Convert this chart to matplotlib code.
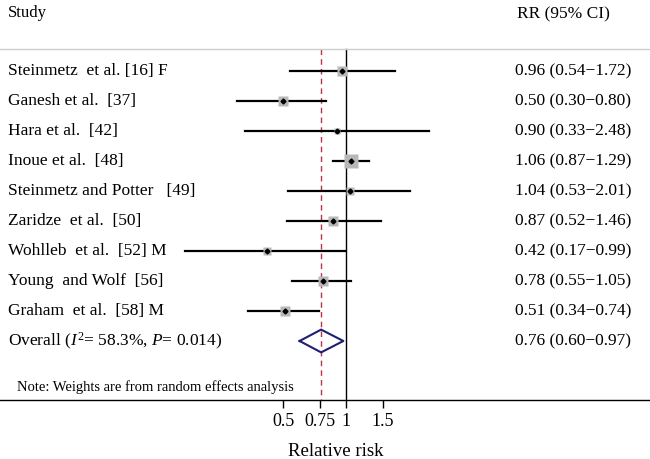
import numpy as np
import matplotlib
matplotlib.use("Agg")
import matplotlib.pyplot as plt
from matplotlib.transforms import blended_transform_factory

plt.rcParams['font.family'] = ['Liberation Serif', 'DejaVu Serif']
plt.rcParams['mathtext.fontset'] = 'custom'
plt.rcParams['mathtext.rm'] = 'Liberation Serif'
plt.rcParams['mathtext.it'] = 'Liberation Serif:italic'

studies = ["Steinmetz  et al. [16] F", "Ganesh et al.  [37]", "Hara et al.  [42]",
           "Inoue et al.  [48]", "Steinmetz and Potter   [49]", "Zaridze  et al.  [50]",
           "Wohlleb  et al.  [52] M", "Young  and Wolf  [56]", "Graham  et al.  [58] M"]
rr = [0.96, 0.50, 0.90, 1.06, 1.04, 0.87, 0.42, 0.78, 0.51]
lo = [0.54, 0.30, 0.33, 0.87, 0.53, 0.52, 0.17, 0.55, 0.34]
hi = [1.72, 0.80, 2.48, 1.29, 2.01, 1.46, 0.99, 1.05, 0.74]
weights = [10.7, 12.2, 5.1, 20.5, 7.0, 10.7, 7.0, 12.8, 14.2]

overall_rr, overall_lo, overall_hi = 0.76, 0.60, 0.97
overall_label = r"Overall ($\mathit{I}^{2}$= 58.3%, $\mathit{P}$= 0.014)"
ticks = [0.5, 0.75, 1, 1.5]
tick_labels = ["0.5", "0.75", "1", "1.5"]

fig = plt.figure(figsize=(6.5, 4.59), dpi=100)
ax = fig.add_axes([0, 59 / 459, 1, 400 / 459])
ax.set_xscale('log')
ax.set_xlim(0.0223, 28.2)
ax.set_ylim(11.967, -1.367)

rows = np.arange(1, len(studies) + 1)
overall_row = len(studies) + 1

# reference lines
ax.plot([1, 1], [0.267, 11.967], color='black', lw=1, zorder=1)
ax.plot([overall_rr, overall_rr], [0.267, 11.967], color='#b8334a', lw=1,
        ls=(0, (4, 3)), zorder=1)
ax.axhline(0.267, color='#cccccc', lw=1)

for y, r, l, h, w in zip(rows, rr, lo, hi, weights):
    ax.plot([l, h], [y, y], color='black', lw=1.6, zorder=2)
    ax.plot(r, y, marker='s', ms=2.9 * np.sqrt(w) * 0.72, color='#b8b8b8',
            mec='none', zorder=3)
    ax.plot(r, y, marker='D', ms=2.5, color='black', zorder=4)

# pooled diamond
ax.plot([overall_lo, overall_rr, overall_hi, overall_rr, overall_lo],
        [overall_row, overall_row - 0.38, overall_row, overall_row + 0.38, overall_row],
        color='#1f1f70', lw=1.5, zorder=3)

trans = blended_transform_factory(ax.transAxes, ax.transData)
ax.text(0.0123, -0.95, "Study", transform=trans, fontsize=12, va='center')
ax.text(0.795, -0.88, "RR (95% CI)", transform=trans, fontsize=12.5, va='center')
for y, s, r, l, h in zip(rows, studies, rr, lo, hi):
    ax.text(0.0123, y, s, transform=trans, fontsize=12.5, va='center')
    ax.text(0.792, y, f"{r:.2f} ({l:.2f}\u2212{h:.2f})", transform=trans,
            fontsize=12.5, va='center')
ax.text(0.0123, overall_row, overall_label, transform=trans, fontsize=12.5, va='center')
ax.text(0.792, overall_row, f"{overall_rr:.2f} ({overall_lo:.2f}\u2212{overall_hi:.2f})",
        transform=trans, fontsize=12.5, va='center')
ax.text(0.026, 11.55, "Note: Weights are from random effects analysis", transform=trans,
        fontsize=10.5, va='center')

for side in ['top', 'left', 'right']:
    ax.spines[side].set_visible(False)
ax.spines['bottom'].set_linewidth(1)
ax.set_yticks([])
ax.set_xticks(ticks)
ax.set_xticklabels(tick_labels)
ax.minorticks_off()
ax.tick_params(axis='x', length=6, width=1, pad=3, labelsize=13)
ax.set_xlabel("Relative risk", fontsize=13.5)
ax.xaxis.set_label_coords(0.517, -0.128)
ax.xaxis.label.set_va('center')

fig.savefig("out.png", dpi=100)
